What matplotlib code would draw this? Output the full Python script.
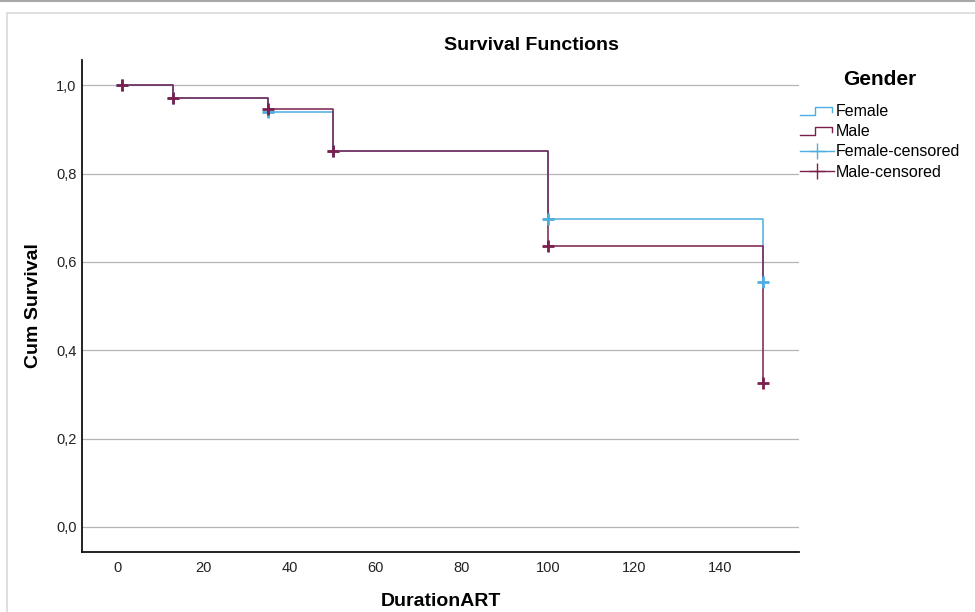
import matplotlib
matplotlib.use("Agg")
import matplotlib.pyplot as plt
from matplotlib.legend_handler import HandlerBase
from matplotlib.lines import Line2D
from matplotlib.patches import Rectangle

plt.rcParams["font.family"] = ["Liberation Sans", "DejaVu Sans"]

# Kaplan-Meier steps
time_female = [0, 13, 35, 50, 100, 150]
surv_female = [1.0, 0.97, 0.94, 0.85, 0.698, 0.554]
time_male = [0, 13, 35, 50, 100, 150]
surv_male = [1.0, 0.97, 0.947, 0.85, 0.637, 0.326]

# censored marks
cens_t_female = [1, 13, 35, 50, 100, 150]
cens_s_female = [1.0, 0.97, 0.94, 0.85, 0.698, 0.554]
cens_t_male = [1, 13, 35, 50, 100, 150]
cens_s_male = [1.0, 0.97, 0.947, 0.85, 0.637, 0.326]

x_ticks = [0, 20, 40, 60, 80, 100, 120, 140]
y_ticks = [0.0, 0.2, 0.4, 0.6, 0.8, 1.0]
y_tick_labels = ["0,0", "0,2", "0,4", "0,6", "0,8", "1,0"]

FEMALE = "#4daee0"
MALE = "#7b1f4e"


class StepHandler(HandlerBase):
    # little step glyph like the SPSS legend
    def create_artists(self, legend, orig_handle, xdescent, ydescent,
                       width, height, fontsize, trans):
        xs = [-xdescent, -xdescent + 0.45 * width, -xdescent + 0.45 * width,
              -xdescent + 0.95 * width, -xdescent + 0.95 * width]
        ys = [0.1 * height, 0.1 * height, 0.8 * height, 0.8 * height, 0.4 * height]
        ln = Line2D(xs, ys, color=orig_handle.get_color(), lw=1.0)
        ln.set_transform(trans)
        return [ln]


fig = plt.figure(figsize=(9.75, 6.12), dpi=100)
ax = fig.add_axes([82 / 975, 1 - 551.7 / 612, (799 - 82) / 975, (551.7 - 60) / 612])

# outer frame like the screenshot
fig.add_artist(Rectangle((7 / 975, -0.05), 1.0, 1 - 13 / 612 + 0.05,
                         transform=fig.transFigure, fill=False,
                         edgecolor="#d9d9d9", lw=1.2))
fig.add_artist(Line2D([0, 1], [1 - 1 / 612, 1 - 1 / 612], transform=fig.transFigure,
                      color="#a8a8a8", lw=1.5))

for y in y_ticks:
    ax.axhline(y, color="#b4b4b4", lw=0.9, zorder=0)

ax.step(time_female, surv_female, where="post", color=FEMALE, lw=1.1, zorder=2)
ax.step(time_male, surv_male, where="post", color=MALE, lw=1.1, zorder=3)
ax.plot(cens_t_female, cens_s_female, ls="none", marker="+", ms=9, mew=2,
        color=FEMALE, zorder=4)
ax.plot(cens_t_male, cens_s_male, ls="none", marker="+", ms=9, mew=2,
        color=MALE, zorder=5)

ax.set_xlim(-8.25, 158.3)
ax.set_ylim(-0.056, 1.057)
ax.set_xticks(x_ticks)
ax.set_yticks(y_ticks)
ax.set_yticklabels(y_tick_labels)
ax.tick_params(length=0, labelsize=10.5, colors="#222222")
ax.tick_params(axis="y", pad=4)
ax.tick_params(axis="x", pad=7)

for side in ("top", "right"):
    ax.spines[side].set_visible(False)
for side in ("left", "bottom"):
    ax.spines[side].set_color("#111111")
    ax.spines[side].set_linewidth(1.3)

ax.set_xlabel("DurationART", fontsize=14, fontweight="bold", labelpad=13)
ax.set_ylabel("Cum Survival", fontsize=14, fontweight="bold", labelpad=10)
fig.text(531 / 975, 1 - 45 / 612, "Survival Functions", ha="center", va="center",
         fontsize=14, fontweight="bold")

h_f = Line2D([], [], color=FEMALE)
h_m = Line2D([], [], color=MALE)
h_fc = Line2D([], [], color=FEMALE, lw=1.0, marker="+", ms=12, mew=1.0)
h_mc = Line2D([], [], color=MALE, lw=1.0, marker="+", ms=12, mew=1.0)
leg = fig.legend([h_f, h_m, h_fc, h_mc],
                 ["Female", "Male", "Female-censored", "Male-censored"],
                 handler_map={h_f: StepHandler(), h_m: StepHandler()},
                 loc="upper left", bbox_to_anchor=(800 / 975, 1 - 70 / 612),
                 frameon=False, fontsize=11.5, title="Gender",
                 title_fontproperties={"size": 15, "weight": "bold"},
                 handlelength=2.1, handletextpad=0.12, labelspacing=0.32,
                 borderpad=0, borderaxespad=0)
leg._legend_box.sep = 11

fig.savefig("out.png", dpi=100)
